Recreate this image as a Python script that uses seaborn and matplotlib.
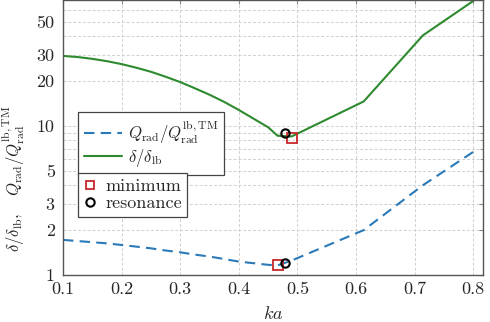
import matplotlib
matplotlib.use('AGG')
import matplotlib.pyplot as plt
import matplotlib.ticker as mticker
from matplotlib.lines import Line2D
import seaborn as sns
import pandas as pd

# values
ka = [0.100, 0.125, 0.150, 0.175, 0.200, 0.225, 0.250, 0.275, 0.300, 0.325,
      0.350, 0.375, 0.400, 0.425, 0.450, 0.466, 0.490, 0.613, 0.714, 0.800]
q_ratio = [1.72, 1.69, 1.66, 1.63, 1.59, 1.55, 1.51, 1.46, 1.42, 1.37,
           1.33, 1.28, 1.23, 1.20, 1.17, 1.16, 1.25, 2.0, 4.0, 6.7]
delta_ratio = [29.5, 29.0, 28.2, 27.2, 26.0, 24.6, 23.1, 21.4, 19.7, 17.9,
               16.2, 14.5, 12.8, 11.2, 9.8, 8.6, 8.5, 14.6, 40.5, 69.0]

min_ka = [0.466, 0.49]
min_val = [1.16, 8.35]
res_ka = [0.479, 0.479]
res_val = [1.21, 8.9]

y_major = [1, 2, 3, 5, 10, 20, 30, 50]
x_ticks = [0.1, 0.2, 0.3, 0.4, 0.5, 0.6, 0.7, 0.8]

BLUE = '#2a7ab9'
GREEN = '#2e8a2e'
RED = '#c8262b'

sns.set_style('white')
plt.rcParams['font.family'] = ['cmr10', 'DejaVu Serif']
plt.rcParams['mathtext.fontset'] = 'cm'
plt.rcParams['axes.formatter.use_mathtext'] = True

df = pd.DataFrame({'ka': ka, 'q': q_ratio, 'd': delta_ratio})

fig = plt.figure(figsize=(4.9, 3.22), dpi=100)
ax = fig.add_axes([63 / 490, 1 - 275 / 322, 420 / 490, 275 / 322])

sns.lineplot(data=df, x='ka', y='q', ax=ax, color=BLUE, lw=1.5)
ax.lines[-1].set_dashes([5, 3])
sns.lineplot(data=df, x='ka', y='d', ax=ax, color=GREEN, lw=1.5)

ax.plot(min_ka, min_val, ls='none', marker='s', ms=6.5, mfc='none',
        mec=RED, mew=1.3, zorder=5)
ax.plot(res_ka, res_val, ls='none', marker='o', ms=6, mfc='none',
        mec='black', mew=1.5, zorder=6)

ax.set_yscale('log')
ax.set_xlim(0.1, 0.8166)
ax.set_ylim(1, 70)
ax.yaxis.set_major_locator(mticker.FixedLocator(y_major))
ax.yaxis.set_major_formatter(mticker.FixedFormatter([str(v) for v in y_major]))
ax.yaxis.set_minor_locator(mticker.LogLocator(base=10, subs=range(2, 10)))
ax.yaxis.set_minor_formatter(mticker.NullFormatter())
ax.xaxis.set_major_locator(mticker.FixedLocator(x_ticks))
ax.xaxis.set_major_formatter(mticker.FixedFormatter([f'{v:.1f}' for v in x_ticks]))

ax.grid(True, which='both', ls=(0, (3, 2)), color='#d0d0d0', lw=0.7)
ax.tick_params(which='both', direction='in', color='#888888', labelsize=13,
               right=True, top=True, length=3)
ax.tick_params(axis='x', pad=5)
ax.tick_params(axis='y', pad=6)
ax.tick_params(which='minor', length=2)
for s in ax.spines.values():
    s.set_color('#555555')
    s.set_linewidth(1.0)

ax.set_xlabel('$ka$', fontsize=13)
ax.xaxis.set_label_coords(0.5, -0.11)
ax.set_ylabel(r'$\delta/\delta_{\rm lb},\quad Q_{\rm rad}/Q_{\rm rad}^{\rm lb,TM}$',
              fontsize=12)
ax.yaxis.set_label_coords(-0.085, 0.35)

h1 = [Line2D([], [], color=BLUE, lw=1.5, dashes=[5, 3]),
      Line2D([], [], color=GREEN, lw=1.5)]
leg1 = ax.legend(h1, [r'$Q_{\rm rad}/Q_{\rm rad}^{\rm lb,TM}$', r'$\delta/\delta_{\rm lb}$'],
                 loc='upper left', bbox_to_anchor=(0.036, 0.593), fontsize=12,
                 fancybox=False, framealpha=1, edgecolor='#444444',
                 handlelength=2.3, handletextpad=0.35, labelspacing=0.1,
                 borderpad=0.35, borderaxespad=0)
leg1.get_frame().set_linewidth(0.9)
ax.add_artist(leg1)

h2 = [Line2D([], [], ls='none', marker='s', ms=6, mfc='none', mec=RED, mew=1.3),
      Line2D([], [], ls='none', marker='o', ms=6, mfc='none', mec='black', mew=1.5)]
leg2 = ax.legend(h2, ['minimum', 'resonance'], loc='upper left',
                 bbox_to_anchor=(0.036, 0.371), fontsize=13, fancybox=False,
                 framealpha=1, edgecolor='#444444', handlelength=0.7,
                 handletextpad=0.5, labelspacing=0.1, borderpad=0.3,
                 borderaxespad=0)
leg2.get_frame().set_linewidth(0.9)

fig.savefig('out.png', dpi=100)
